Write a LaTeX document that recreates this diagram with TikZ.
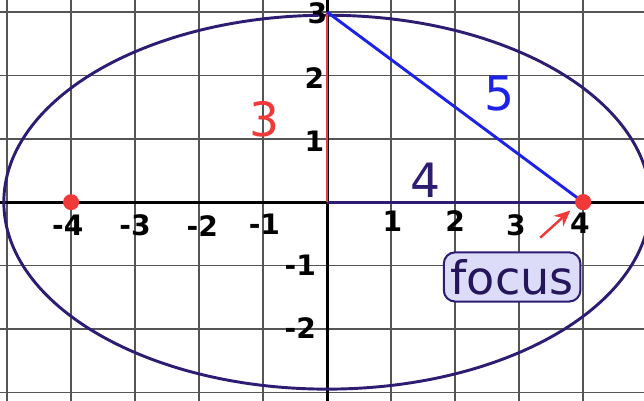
\documentclass[tikz,border=0pt]{standalone}
\usepackage{fontspec}
\setmainfont{DejaVu Sans}
\usetikzlibrary{arrows.meta}
\definecolor{ell}{HTML}{2E1C73}
\definecolor{gridc}{HTML}{555555}
\definecolor{redc}{HTML}{F03A3A}
\definecolor{bluec}{HTML}{1E22E8}
\definecolor{boxfill}{HTML}{DCDCF8}
\tikzset{
  tick/.style={font=\bfseries\fontsize{12.5}{12.5}\selectfont, text=black, inner sep=0pt},
  biglab/.style={font=\fontsize{21}{21}\selectfont, inner sep=0pt},
  focusdot/.style={circle, fill=redc, inner sep=0pt, minimum size=2.5mm},
}
\begin{document}
\begin{tikzpicture}[x=1cm,y=0.99cm]
\useasboundingbox (-5.11,-3.13) rectangle (4.95,3.19);
\fill[white] (-5.11,-3.13) rectangle (4.95,3.19);
\begin{scope}
\clip (-5.11,-3.13) rectangle (4.95,3.19);
% grid
\foreach \x in {-5,...,4} \draw[gridc, line width=0.7pt] (\x,-3.3) -- (\x,3.3);
\foreach \y in {-3,...,3} \draw[gridc, line width=0.7pt] (-5.2,\y) -- (5.2,\y);
% axes
\draw[black, line width=1.3pt] (-5.2,0) -- (5.2,0);
\draw[black, line width=1.3pt] (0,-3.3) -- (0,3.3);
% ellipse
\draw[ell, line width=1.3pt] (0,0) ellipse [x radius=5.05, y radius=2.95];
\end{scope}
\coordinate (O) at (0,0);
\coordinate (T) at (0,3);
\node[focusdot] (F1) at (-4,0) {};
\node[focusdot] (F2) at (4,0) {};
\draw[ell, line width=1.3pt] (O) -- (F2.center);
\draw[redc, line width=1pt] (O) -- (T);
\draw[bluec, line width=1.3pt] (T) -- (F2.center);
\node[focusdot] at (4,0) {};
% tick labels
\node[tick] (xm4) at (-4.05,-0.37) {-4};
\node[tick] (xm3) at (-3.0,-0.37) {-3};
\node[tick] (xm2) at (-1.95,-0.37) {-2};
\node[tick] (xm1) at (-0.98,-0.35) {-1};
\node[tick] (x1) at (1.02,-0.3) {1};
\node[tick] (x2) at (2.0,-0.3) {2};
\node[tick] (x3) at (2.95,-0.37) {3};
\node[tick] (x4) at (3.95,-0.33) {4};
\node[tick] (y3) at (-0.15,2.98) {3};
\node[tick] (y2) at (-0.2,1.96) {2};
\node[tick] (y1) at (-0.2,0.96) {1};
\node[tick] (ym1) at (-0.42,-1.0) {-1};
\node[tick] (ym2) at (-0.42,-1.98) {-2};
% side labels
\node[biglab, text=redc] (l3) at (-0.97,1.3) {3};
\node[biglab, text=bluec] (l5) at (2.7,1.72) {5};
\node[biglab, text=ell] (l4) at (1.53,0.34) {4};
% focus box
\node[draw=ell, line width=0.9pt, fill=boxfill, rounded corners=5pt, inner xsep=3pt, inner ysep=3pt,
      font=\fontsize{20.5}{20.5}\selectfont, text=ell!80!black] (fb) at (2.89,-1.18) {focus};
\coordinate (as) at (3.33,-0.56);
\coordinate (ae) at (3.8,-0.13);
\draw[redc, line width=1.1pt, -{Stealth[length=2.5mm,width=2.2mm]}] (as) -- (ae);
\end{tikzpicture}
\end{document}
